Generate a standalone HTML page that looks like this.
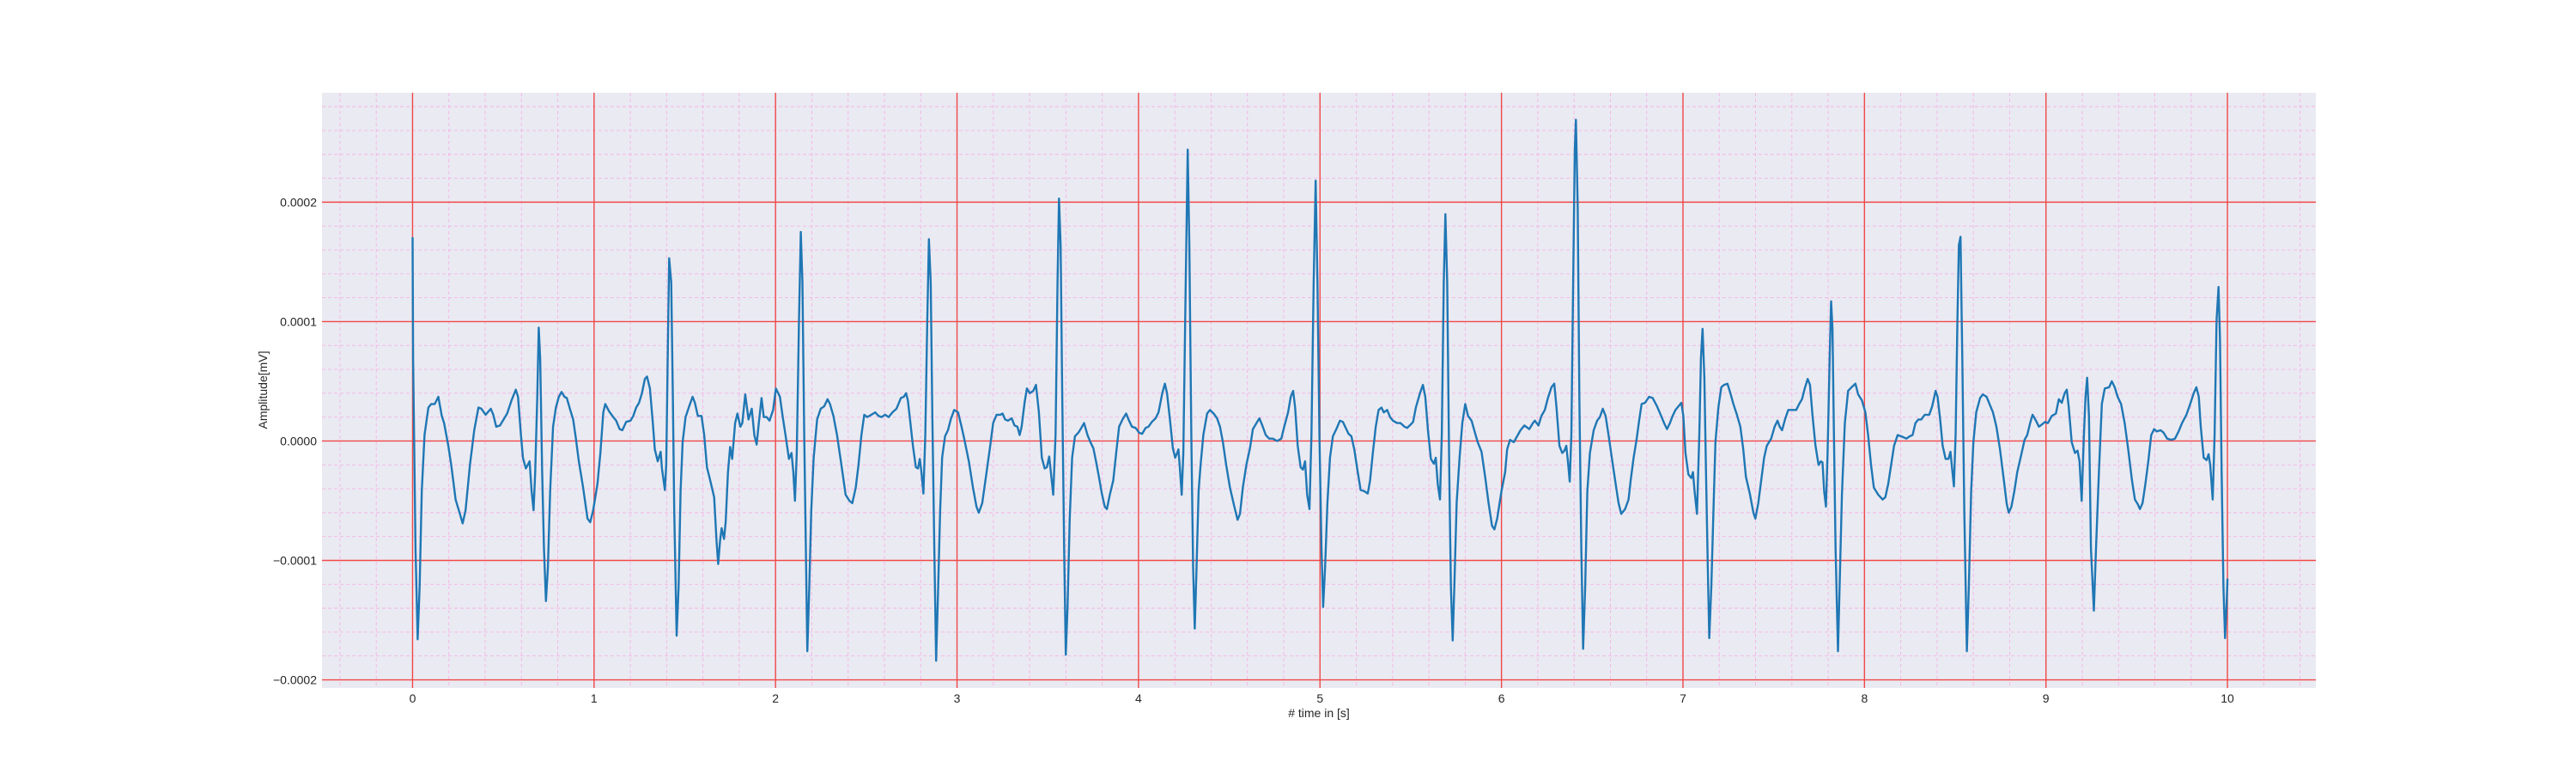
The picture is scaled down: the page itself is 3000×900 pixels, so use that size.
<!DOCTYPE html>
<html><head><meta charset="utf-8"><style>
html,body{margin:0;padding:0;background:#fff;width:3000px;height:900px;overflow:hidden}
svg text{font-family:"Liberation Sans",sans-serif;fill:#262626}
</style></head><body>
<svg id="chart" width="3000" height="900" viewBox="0 0 3000 900" xmlns="http://www.w3.org/2000/svg">
<rect x="375" y="108" width="2322" height="693" fill="#EAEAF2"/>
<g id="grid"></g>
<g id="ticks"></g>
<g id="series"></g>
<text x="1536" y="835" font-size="14" text-anchor="middle"># time in [s]</text>
<text x="0" y="0" font-size="14" text-anchor="middle" transform="translate(311,454) rotate(-90)">Amplitude[mV]</text>
</svg>
<script>
const AMP_UNIT = 1e-4;
const xTicks = [0,1,2,3,4,5,6,7,8,9,10];
const yTicks = [-0.0002,-0.0001,0.0000,0.0001,0.0002];
const yTickLabels = ["\u22120.0002","\u22120.0001","0.0000","0.0001","0.0002"];
const seg0T=[0,0.003,0.016,0.028,0.039,0.051,0.066,0.087,0.103,0.122,0.142,0.161,0.174,0.197,0.213,0.237,0.261,0.276,0.292,0.316,0.340,0.363,0.379,0.403,0.431,0.445,0.461,0.482,0.521,0.545,0.569,0.581,0.597,0.608,0.624,0.645,0.656,0.667,0.676,0.687,0.695,0.703,0.714,0.724,0.735,0.746,0.758,0.774,0.790,0.806,0.821,0.837,0.850,0.869,0.885,0.900,0.916,0.940,0.964,0.979,0.995,1.019,1.035,1.051,1.062,1.082,1.106,1.122,1.141,1.156,1.177,1.201,1.216,1.232,1.248,1.264,1.280,1.292,1.308,1.324,1.335,1.351,1.367,1.374,1.390,1.398,1.406,1.414,1.425,1.434,1.442,1.455,1.466,1.477,1.488,1.504,1.524,1.543,1.556,1.572,1.592,1.607,1.622,1.640,1.662,1.675,1.684,1.694,1.703,1.716,1.725,1.738,1.750,1.761,1.777,1.790,1.806,1.817,1.833,1.851,1.869,1.883,1.896,1.908,1.923,1.935,1.951,1.967,1.987];
const seg0V=[1.70,0.69,-0.90,-1.66,-1.22,-0.42,0.05,0.28,0.31,0.31,0.37,0.21,0.15,-0.04,-0.20,-0.49,-0.61,-0.69,-0.58,-0.20,0.09,0.28,0.27,0.22,0.27,0.22,0.12,0.13,0.23,0.34,0.43,0.37,0.05,-0.14,-0.23,-0.17,-0.42,-0.58,-0.26,0.37,0.95,0.69,-0.26,-0.90,-1.34,-1.06,-0.42,0.12,0.28,0.37,0.41,0.37,0.36,0.26,0.18,0.02,-0.17,-0.39,-0.65,-0.68,-0.58,-0.36,-0.10,0.24,0.31,0.25,0.20,0.17,0.10,0.09,0.16,0.17,0.21,0.28,0.32,0.40,0.52,0.54,0.44,0.15,-0.07,-0.17,-0.09,-0.23,-0.41,-0.20,0.69,1.53,1.33,0.37,-0.58,-1.63,-1.22,-0.42,-0.01,0.20,0.29,0.37,0.32,0.21,0.21,0.05,-0.22,-0.33,-0.47,-0.84,-1.03,-0.84,-0.73,-0.82,-0.68,-0.26,-0.05,-0.15,0.15,0.23,0.12,0.15,0.39,0.18,0.27,0.05,-0.03,0.15,0.36,0.20,0.20,0.17,0.26];
const seg1T=[2.002,2.024,2.039,2.055,2.074,2.088,2.098,2.107,2.117,2.129,2.139,2.148,2.158,2.167,2.175,2.186,2.197,2.210,2.229,2.249,2.268,2.287,2.300,2.319,2.339,2.363,2.386,2.407,2.423,2.442,2.457,2.473,2.489,2.505,2.528,2.549,2.568,2.584,2.604,2.623,2.644,2.666,2.691,2.707,2.719,2.729,2.741,2.757,2.773,2.785,2.795,2.804,2.815,2.825,2.836,2.845,2.855,2.864,2.875,2.885,2.896,2.907,2.918,2.934,2.950,2.965,2.984,3.006,3.025,3.041,3.065,3.088,3.107,3.120,3.139,3.159,3.183,3.199,3.218,3.238,3.251,3.265,3.281,3.301,3.317,3.333,3.345,3.356,3.372,3.385,3.401,3.420,3.435,3.451,3.467,3.483,3.495,3.508,3.517,3.530,3.543,3.554,3.562,3.571,3.580,3.590,3.599,3.609,3.621,3.634,3.650,3.669,3.685,3.700,3.719,3.735,3.751,3.767,3.782,3.798,3.814,3.826,3.842,3.861,3.877,3.893,3.912,3.932,3.948,3.964,3.984];
const seg1V=[0.44,0.37,0.21,0.05,-0.15,-0.10,-0.26,-0.50,-0.10,1.01,1.75,1.33,0.05,-0.90,-1.76,-1.22,-0.58,-0.14,0.18,0.27,0.29,0.35,0.31,0.21,0.05,-0.20,-0.45,-0.50,-0.52,-0.39,-0.20,0.05,0.22,0.20,0.22,0.24,0.21,0.20,0.22,0.20,0.24,0.27,0.36,0.37,0.40,0.34,0.18,-0.04,-0.22,-0.23,-0.15,-0.26,-0.44,0.05,1.01,1.69,1.33,0.21,-0.90,-1.84,-1.22,-0.58,-0.14,0.04,0.09,0.18,0.26,0.24,0.12,0.01,-0.17,-0.39,-0.55,-0.60,-0.52,-0.30,-0.04,0.15,0.22,0.22,0.23,0.18,0.17,0.19,0.13,0.12,0.05,0.12,0.32,0.44,0.40,0.42,0.47,0.24,-0.14,-0.23,-0.22,-0.13,-0.26,-0.45,0.05,1.33,2.03,1.64,0.37,-0.90,-1.79,-1.38,-0.65,-0.14,0.04,0.07,0.11,0.15,0.05,-0.01,-0.06,-0.18,-0.30,-0.44,-0.55,-0.57,-0.45,-0.33,-0.10,0.12,0.18,0.23,0.17,0.12,0.11];
const seg2T=[4.003,4.020,4.039,4.055,4.074,4.094,4.110,4.131,4.145,4.157,4.173,4.189,4.202,4.213,4.220,4.228,4.238,4.247,4.260,4.271,4.280,4.291,4.301,4.310,4.320,4.331,4.342,4.357,4.378,4.394,4.414,4.433,4.449,4.465,4.483,4.504,4.528,4.546,4.559,4.575,4.594,4.614,4.630,4.650,4.666,4.682,4.701,4.720,4.740,4.764,4.787,4.803,4.824,4.839,4.852,4.863,4.877,4.893,4.906,4.918,4.929,4.942,4.953,4.965,4.976,4.986,4.997,5.008,5.017,5.028,5.041,5.055,5.071,5.090,5.110,5.126,5.145,5.157,5.173,5.189,5.208,5.224,5.244,5.263,5.276,5.291,5.307,5.323,5.339,5.351,5.370,5.386,5.402,5.425,5.444,5.465,5.480,5.501,5.513,5.528,5.551,5.567,5.580,5.595,5.611,5.627,5.638,5.649,5.661,5.671,5.682,5.691,5.701,5.712,5.721,5.731,5.740,5.753,5.769,5.784,5.800,5.816,5.835,5.850,5.869,5.890,5.910,5.929,5.948,5.961,5.976,6.000];
const seg2V=[0.07,0.06,0.11,0.12,0.16,0.19,0.24,0.40,0.48,0.40,0.18,-0.06,-0.14,-0.10,-0.07,-0.23,-0.45,-0.10,1.33,2.44,1.64,0.05,-1.06,-1.57,-1.06,-0.42,-0.20,0.05,0.23,0.26,0.23,0.19,0.12,-0.01,-0.20,-0.39,-0.55,-0.66,-0.61,-0.39,-0.20,-0.06,0.10,0.15,0.19,0.13,0.05,0.02,0.02,0.00,0.02,0.12,0.24,0.37,0.42,0.28,-0.04,-0.22,-0.24,-0.17,-0.45,-0.57,0.05,1.33,2.18,1.33,0.05,-0.90,-1.39,-1.06,-0.52,-0.14,0.04,0.10,0.17,0.16,0.10,0.06,0.04,-0.07,-0.26,-0.41,-0.42,-0.44,-0.33,-0.10,0.12,0.26,0.28,0.24,0.26,0.20,0.17,0.15,0.15,0.12,0.11,0.14,0.16,0.28,0.40,0.47,0.37,0.09,-0.15,-0.19,-0.14,-0.36,-0.49,0.05,1.33,1.90,1.33,-0.26,-1.22,-1.67,-1.22,-0.52,-0.14,0.15,0.31,0.21,0.17,0.09,-0.01,-0.09,-0.30,-0.52,-0.71,-0.74,-0.65,-0.42];
const seg3T=[6.020,6.031,6.047,6.068,6.086,6.105,6.126,6.153,6.173,6.184,6.204,6.220,6.239,6.256,6.275,6.291,6.303,6.319,6.335,6.347,6.357,6.366,6.376,6.385,6.395,6.404,6.410,6.420,6.429,6.440,6.450,6.461,6.473,6.487,6.508,6.527,6.542,6.558,6.574,6.590,6.608,6.629,6.645,6.660,6.681,6.700,6.712,6.728,6.744,6.759,6.772,6.791,6.813,6.833,6.857,6.880,6.896,6.912,6.928,6.943,6.959,6.975,6.991,7.002,7.014,7.030,7.046,7.055,7.064,7.077,7.090,7.099,7.108,7.118,7.127,7.137,7.145,7.156,7.168,7.179,7.195,7.211,7.226,7.245,7.261,7.278,7.297,7.316,7.332,7.347,7.368,7.388,7.399,7.415,7.431,7.447,7.462,7.486,7.505,7.521,7.533,7.546,7.562,7.580,7.604,7.624,7.640,7.656,7.671,7.687,7.700,7.714,7.730,7.747,7.760,7.769,7.778,7.788,7.797,7.808,7.816,7.824,7.832,7.841,7.854,7.863,7.876,7.892,7.910,7.929,7.950,7.965,7.986,8.005,8.020,8.036];
const seg3V=[-0.26,-0.07,0.01,-0.01,0.04,0.09,0.13,0.10,0.15,0.17,0.13,0.21,0.26,0.36,0.45,0.48,0.28,-0.04,-0.10,-0.08,-0.04,-0.17,-0.34,0.05,1.33,2.44,2.69,1.96,0.37,-0.90,-1.74,-1.22,-0.42,-0.10,0.09,0.17,0.20,0.27,0.21,0.05,-0.14,-0.36,-0.52,-0.61,-0.57,-0.49,-0.33,-0.14,0.01,0.18,0.31,0.32,0.37,0.36,0.29,0.21,0.15,0.10,0.15,0.21,0.26,0.29,0.32,0.21,-0.10,-0.28,-0.31,-0.26,-0.42,-0.61,0.05,0.69,0.94,0.53,-0.26,-1.06,-1.65,-1.22,-0.58,-0.01,0.28,0.45,0.47,0.48,0.40,0.31,0.22,0.12,-0.07,-0.30,-0.44,-0.60,-0.65,-0.52,-0.33,-0.14,-0.04,0.02,0.12,0.17,0.12,0.09,0.18,0.26,0.26,0.26,0.31,0.35,0.44,0.52,0.47,0.21,-0.04,-0.20,-0.17,-0.18,-0.42,-0.55,-0.10,0.69,1.17,0.94,0.05,-0.90,-1.76,-1.22,-0.45,0.15,0.42,0.45,0.48,0.39,0.34,0.24,0.05,-0.20];
const seg4T=[8.052,8.076,8.100,8.115,8.131,8.147,8.163,8.183,8.202,8.231,8.250,8.265,8.281,8.297,8.313,8.332,8.357,8.373,8.392,8.403,8.417,8.431,8.447,8.463,8.474,8.483,8.493,8.502,8.512,8.520,8.529,8.539,8.550,8.564,8.575,8.588,8.600,8.616,8.637,8.652,8.673,8.689,8.708,8.727,8.747,8.768,8.784,8.795,8.810,8.826,8.842,8.863,8.882,8.897,8.913,8.926,8.945,8.961,8.979,8.995,9.011,9.032,9.055,9.071,9.087,9.103,9.115,9.126,9.142,9.160,9.174,9.185,9.197,9.209,9.218,9.227,9.237,9.248,9.264,9.276,9.292,9.308,9.324,9.348,9.363,9.379,9.395,9.414,9.434,9.453,9.474,9.490,9.506,9.518,9.532,9.548,9.564,9.580,9.596,9.611,9.632,9.648,9.668,9.690,9.711,9.731,9.750,9.774,9.795,9.814,9.829,9.842,9.853,9.869,9.885,9.896,9.905,9.919,9.929,9.940,9.951,9.959,9.968,9.978,9.987,9.995,10.000];
const seg4V=[-0.39,-0.45,-0.49,-0.47,-0.36,-0.20,-0.04,0.05,0.04,0.02,0.04,0.05,0.15,0.18,0.18,0.22,0.22,0.29,0.42,0.37,0.18,-0.04,-0.15,-0.15,-0.09,-0.23,-0.38,0.05,1.01,1.64,1.71,0.69,-0.58,-1.76,-1.22,-0.42,-0.01,0.24,0.36,0.39,0.37,0.31,0.24,0.12,-0.07,-0.33,-0.53,-0.60,-0.55,-0.42,-0.26,-0.12,0.01,0.05,0.15,0.22,0.17,0.12,0.14,0.16,0.15,0.21,0.23,0.35,0.32,0.40,0.43,0.28,-0.01,-0.10,-0.08,-0.17,-0.50,0.05,0.37,0.53,0.21,-0.90,-1.42,-0.90,-0.26,0.31,0.44,0.45,0.50,0.45,0.37,0.31,0.15,-0.07,-0.33,-0.49,-0.53,-0.57,-0.52,-0.36,-0.17,0.05,0.10,0.08,0.09,0.07,0.02,0.01,0.02,0.08,0.15,0.22,0.31,0.40,0.45,0.37,0.12,-0.14,-0.16,-0.11,-0.20,-0.49,0.05,1.01,1.29,0.85,-0.26,-1.22,-1.65,-1.38,-1.16];

const NS='http://www.w3.org/2000/svg';
const PX0=375, PX1=2697, PY0=108, PY1=801;
const XMIN=-0.499, XMAX=10.487, YMIN=-2.068e-4, YMAX=2.916e-4;
function xs(t){return PX0+(t-XMIN)/(XMAX-XMIN)*(PX1-PX0);}
function ys(v){return PY1-(v-YMIN)/(YMAX-YMIN)*(PY1-PY0);}
function mk(tag,attrs,parent){const e=document.createElementNS(NS,tag);for(const k in attrs)e.setAttribute(k,attrs[k]);parent.appendChild(e);return e;}

const grid=document.getElementById('grid');
for(let i=-2;i<=52;i++){const t=i*0.2; if(t<XMIN||t>XMAX)continue; if(i%5===0)continue;
  const l=mk('line',{x1:xs(t),x2:xs(t),y1:PY0,y2:PY1,stroke:'#f5b4e4','stroke-width':0.9,'stroke-dasharray':'4,3'},grid);
  
  }
for(let i=-10;i<=14;i++){const v=i*0.2e-4; if(v<YMIN||v>YMAX)continue; if(i%5===0)continue;
  const l=mk('line',{x1:PX0,x2:PX1,y1:ys(v),y2:ys(v),stroke:'#f5b4e4','stroke-width':0.9,'stroke-dasharray':'4,3'},grid);
  
  }
const ticksG=document.getElementById('ticks');
xTicks.forEach(t=>{
  const l=mk('line',{x1:xs(t),x2:xs(t),y1:PY0,y2:PY1,stroke:'#f04848','stroke-width':1.4},grid);
  
  
  const tx=mk('text',{x:xs(t),y:818,'font-size':14,'text-anchor':'middle'},ticksG);
  tx.textContent=String(t);
  
  
});
yTicks.forEach((v,i)=>{
  const l=mk('line',{x1:PX0,x2:PX1,y1:ys(v),y2:ys(v),stroke:'#f04848','stroke-width':1.4},grid);
  
  
  const tx=mk('text',{x:369,y:ys(v)+5,'font-size':14,'text-anchor':'end'},ticksG);
  tx.textContent=yTickLabels[i];
  
  
});
const T=[].concat(seg0T,seg1T,seg2T,seg3T,seg4T);
const V=[].concat(seg0V,seg1V,seg2V,seg3V,seg4V);
let d='';
for(let i=0;i<T.length;i++){d+=(i?'L':'M')+xs(T[i]).toFixed(1)+','+ys(V[i]*AMP_UNIT).toFixed(1);}
const path=mk('path',{d:d,fill:'none',stroke:'#1f77b4','stroke-width':2.4,'stroke-linejoin':'round','stroke-linecap':'round'},document.getElementById('series'));


</script>
</body></html>
